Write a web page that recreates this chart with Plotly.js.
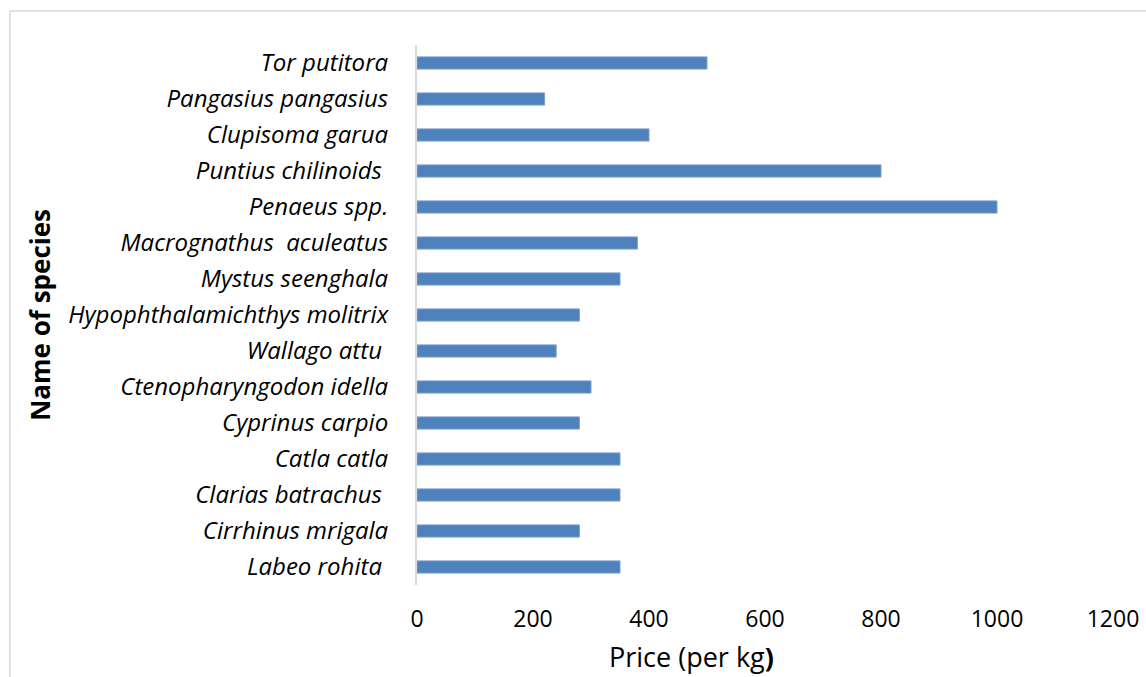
<!DOCTYPE html>
<html>
<head>
<meta charset="utf-8">
<script src="https://cdn.plot.ly/plotly-3.0.1.min.js"></script>
<style>html,body{margin:0;padding:0;background:#fff;}#chart{width:1146px;height:677px;}</style>
</head>
<body>
<div id="chart"></div>
<script>
const species = [
  "Labeo rohita ",
  "Cirrhinus mrigala",
  "Clarias batrachus ",
  "Catla catla",
  "Cyprinus carpio",
  "Ctenopharyngodon idella",
  "Wallago attu ",
  "Hypophthalamichthys molitrix",
  "Mystus seenghala",
  "Macrognathus  aculeatus",
  "Penaeus spp.",
  "Puntius chilinoids ",
  "Clupisoma garua",
  "Pangasius pangasius",
  "Tor putitora"
];
const prices = [350, 280, 350, 350, 280, 300, 240, 280, 350, 380, 1000, 800, 400, 220, 500];
const xTicks = [0, 200, 400, 600, 800, 1000, 1200];

const trace = {
  type: 'bar',
  orientation: 'h',
  y: species.map((s, i) => i),
  x: prices,
  marker: {color: '#4f81bd', line: {color: '#7aa0d0', width: 1}},
  width: 0.34,
  hoverinfo: 'x+text',
  text: species,
  textposition: 'none'
};

const layout = {
  width: 1146, height: 677,
  margin: {l: 417, r: 33, t: 45, b: 92},
  paper_bgcolor: '#ffffff', plot_bgcolor: '#ffffff',
  showlegend: false,
  font: {family: 'Open Sans, sans-serif', color: '#000'},
  xaxis: {
    range: [0, 1200],
    tickvals: xTicks,
    ticktext: xTicks.map(String),
    showgrid: false, zeroline: false, showline: false,
    ticks: '',
    tickfont: {size: 23, color: '#000'},
    ticklabelstandoff: 18,
    fixedrange: true
  },
  yaxis: {
    range: [-0.5, species.length - 0.5],
    tickvals: species.map((s, i) => i),
    ticktext: species.map(s => '<i>' + s + '</i>'),
    showgrid: false, zeroline: false,
    showline: true, linecolor: '#d9d9d9', linewidth: 2,
    ticks: '',
    ticklen: 0,
    tickfont: {size: 24, color: '#000'},
    ticklabelstandoff: 22,
    fixedrange: true
  },
  shapes: [{
    type: 'rect', xref: 'paper', yref: 'paper',
    x0: -0.585, x1: 1.2, y0: -0.3, y1: 1.063,
    line: {color: '#d9d9d9', width: 1.5}, fillcolor: 'rgba(0,0,0,0)', layer: 'below'
  }],
  annotations: [
    {
      text: '<b>Name of species</b>', xref: 'paper', yref: 'paper',
      x: -0.542, y: 0.5, textangle: -90, showarrow: false,
      font: {size: 26, color: '#000'}, xanchor: 'center', yanchor: 'middle'
    },
    {
      text: 'Price (per kg<b>)</b>', xref: 'paper', yref: 'paper',
      x: 0.395, y: -0.095, showarrow: false,
      font: {size: 27, color: '#000'}, xanchor: 'center', yanchor: 'top'
    }
  ]
};

Plotly.newPlot('chart', [trace], layout, {displayModeBar: false, staticPlot: true});
</script>
</body>
</html>
